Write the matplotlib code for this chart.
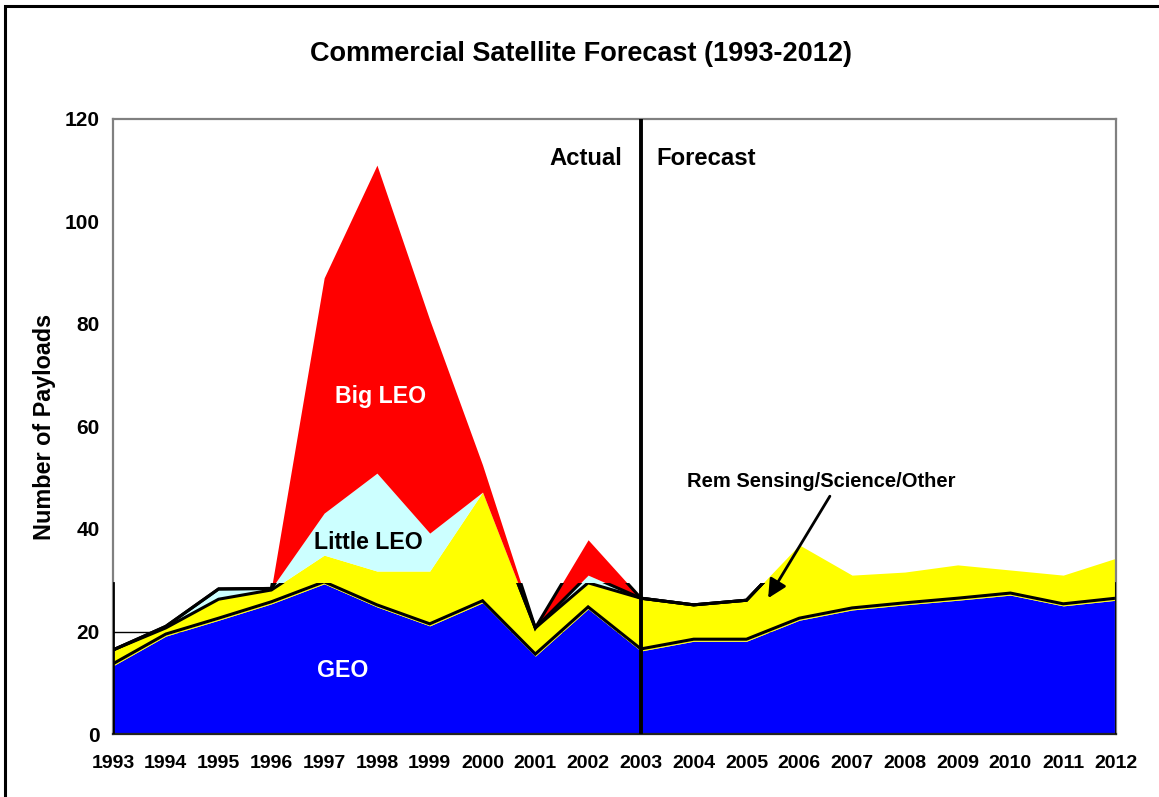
import matplotlib.pyplot as plt
import numpy as np
from matplotlib.patches import Rectangle

plt.rcParams['font.family'] = ['Liberation Sans', 'DejaVu Sans']
plt.rcParams['font.weight'] = 'bold'

years = np.arange(1993, 2013)
geo = [13.3, 19.1, 22.2, 25.4, 29.3, 24.8, 21.1, 25.6, 15.2, 24.4,
       16.2, 18.1, 18.1, 22.2, 24.2, 25.2, 26.1, 27.1, 25.0, 26.1]
rem_other = [3.1, 1.6, 4.1, 2.7, 5.6, 7.0, 10.7, 21.6, 5.5, 5.1,
             10.3, 7.1, 8.0, 14.7, 6.8, 6.4, 6.9, 4.9, 6.0, 8.2]
little_leo = [0, 0.3, 2.0, 0.3, 8.2, 19.1, 7.4, 0, 0, 1.5,
              0, 0, 0, 0, 0, 0, 0, 0, 0, 0]
big_leo = [0, 0, 0, 0, 45.9, 60.1, 41.6, 5.3, 0, 6.9,
           0, 0, 0, 0, 0, 0, 0, 0, 0, 0]
# the black outlines only show up below this level (clipped overlay)
OUTLINE_TOP = 29.5

geo_top = np.array(geo)
rem_top = geo_top + np.array(rem_other)
little_top = rem_top + np.array(little_leo)
big_top = little_top + np.array(big_leo)

fig = plt.figure(figsize=(11.59, 7.97), dpi=100, facecolor='white')
ax = fig.add_axes([113 / 1159, 1 - 734 / 797, 1003 / 1159, 615 / 797])

# gridline from the overlay, only visible in the white corner
ax.axhline(20, color='black', lw=1, zorder=0.5)

ax.fill_between(years, 0, geo_top, color='#0000ff', lw=0, zorder=1)
ax.fill_between(years, geo_top, rem_top, color='#ffff00', lw=0, zorder=1)
ax.fill_between(years, rem_top, little_top, color='#ccffff', lw=0, zorder=1)
ax.fill_between(years, little_top, big_top, color='#ff0000', lw=0, zorder=1)

clip = Rectangle((years[0], 0), years[-1] - years[0], OUTLINE_TOP,
                 transform=ax.transData)
for tops in [geo_top + 0.4, rem_top, little_top, big_top]:
    ln, = ax.plot(years, tops, color='black', lw=2.2, zorder=2,
                  solid_joinstyle='miter')
    ln.set_clip_path(clip)

ax.axvline(years[0], ymax=OUTLINE_TOP / 120, color='black', lw=2, zorder=3)
ax.axvline(years[-1], ymax=OUTLINE_TOP / 120, color='black', lw=2, zorder=3)
ax.axvline(2003, color='black', lw=2.8, zorder=4)

ax.set_xlim(years[0], years[-1])
ax.set_ylim(0, 120)
ax.set_xticks(years)
ax.set_xticklabels([str(y) for y in years], fontsize=14, fontweight='bold')
ax.set_yticks(np.arange(0, 121, 20))
ax.set_yticklabels([str(v) for v in range(0, 121, 20)], fontsize=15,
                   fontweight='bold')
ax.tick_params(axis='x', length=0, pad=15)
ax.tick_params(axis='y', length=0, pad=9.5)
for side in ['top', 'left', 'right']:
    ax.spines[side].set_color('#808080')
    ax.spines[side].set_linewidth(1.6)
ax.spines['bottom'].set_color('#222222')
ax.spines['bottom'].set_linewidth(1.6)

ax.set_ylabel('Number of Payloads', fontsize=16.8, fontweight='bold',
              labelpad=6)

ax.text(2002.64, 112.2, 'Actual', ha='right', va='center', fontsize=17.2,
        fontweight='bold', zorder=5)
ax.text(2003.3, 112.2, 'Forecast', ha='left', va='center', fontsize=17.2,
        fontweight='bold', zorder=5)
ax.text(1998.06, 65.8, 'Big LEO', ha='center', va='center', fontsize=16.7,
        fontweight='bold', color='white', zorder=5)
ax.text(1997.83, 37.3, 'Little LEO', ha='center', va='center', fontsize=16.7,
        fontweight='bold', color='black', zorder=5)
ax.text(1997.36, 12.3, 'GEO', ha='center', va='center', fontsize=16.7,
        fontweight='bold', color='white', zorder=5)

ax.annotate('', xy=(2005.41, 26.5), xytext=(2006.58, 46.4),
            arrowprops=dict(arrowstyle='-|>', color='black', lw=2,
                            mutation_scale=28, shrinkA=0, shrinkB=0),
            zorder=5)
ax.text(2006.41, 49.2, 'Rem Sensing/Science/Other', ha='center',
        va='center', fontsize=14.5, fontweight='bold', zorder=5)

fig.text(581 / 1159, 1 - 54 / 797, 'Commercial Satellite Forecast (1993-2012)',
         ha='center', va='center', fontsize=19.5, fontweight='bold')

# outer chart border
fig.patches.append(Rectangle((5 / 1159, -0.1), 1.2, 1.1 - 6 / 797,
                             transform=fig.transFigure, fill=False,
                             edgecolor='black', lw=2.2))

fig.savefig('out.png', dpi=100)
